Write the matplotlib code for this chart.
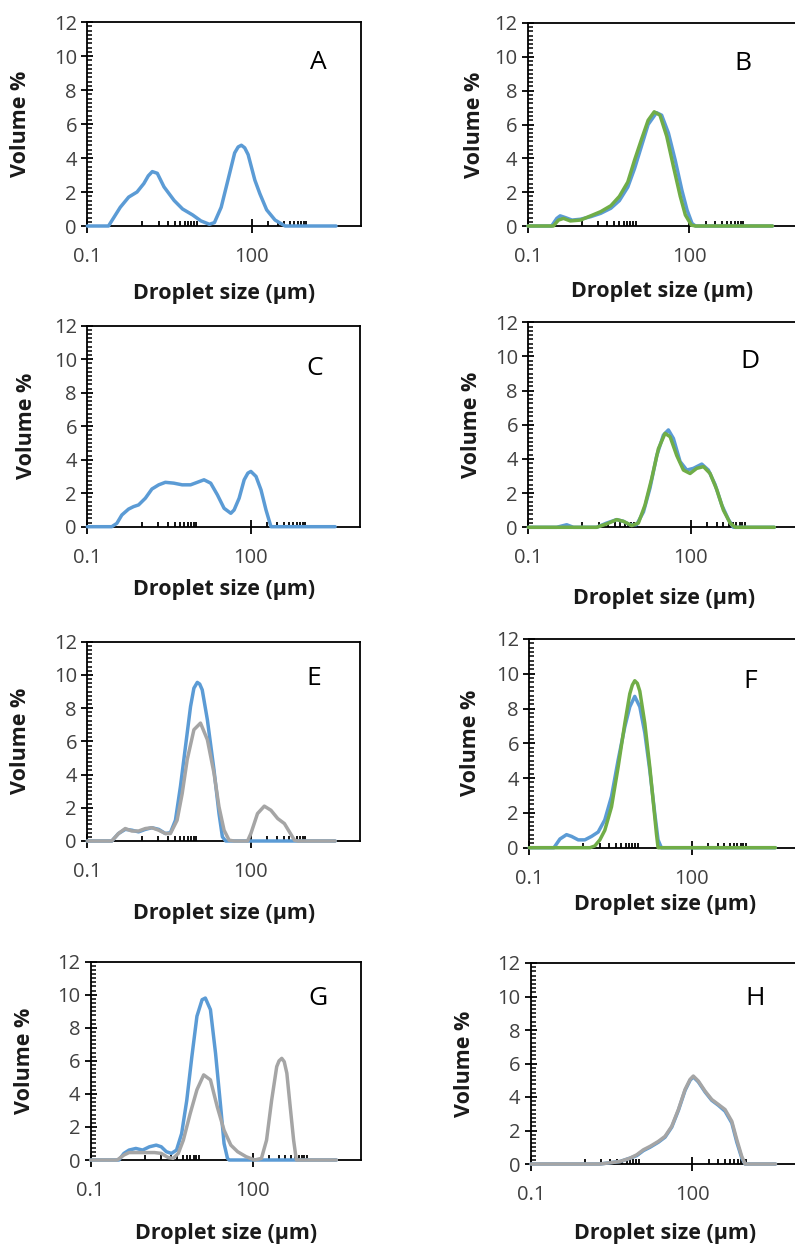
import matplotlib
matplotlib.use("Agg")
import matplotlib.pyplot as plt

plt.rcParams['font.family'] = ['Open Sans', 'DejaVu Sans']

BLUE = '#5B9BD5'
GREEN = '#70AD47'
GREY = '#A5A5A5'

# ---- particle size distributions (size in µm, volume %) ----
A_size = [0.1, 0.244, 0.40, 0.57, 0.81, 1.08, 1.30, 1.54, 1.90, 2.52, 3.86, 5.5, 8.4, 11.9,
          17.0, 21.0, 27.9, 37.1, 49.2, 57.0, 65.3, 75.0, 86.7, 115, 142, 189, 269, 411, 3500]
A_vol = [0, 0, 1.1, 1.7, 2.0, 2.5, 2.95, 3.2, 3.1, 2.3, 1.5, 1.0, 0.65, 0.3,
         0.1, 0.2, 1.1, 2.7, 4.3, 4.65, 4.75, 4.6, 4.2, 2.7, 1.9, 0.95, 0.35, 0, 0]

B1_size = [0.1, 0.275, 0.343, 0.396, 0.492, 0.658, 0.944, 1.46, 2.25, 3.47, 4.99, 7.16,
           9.57, 12.8, 17.1, 24.5, 30.5, 40.7, 54.4, 72.7, 90.4, 112, 130, 3500]
B1_vol = [0, 0, 0.45, 0.6, 0.5, 0.35, 0.4, 0.55, 0.75, 1.05, 1.5, 2.3,
          3.4, 4.7, 6.0, 6.7, 6.55, 5.5, 3.9, 2.1, 0.95, 0.15, 0, 0]
B2_size = [0.1, 0.296, 0.368, 0.457, 0.611, 0.944, 1.46, 2.25, 3.47, 4.99, 7.16, 9.57,
           12.8, 17.1, 22.2, 28.4, 37.9, 50.6, 67.6, 84.1, 109, 130, 3500]
B2_vol = [0, 0, 0.35, 0.45, 0.3, 0.35, 0.6, 0.85, 1.2, 1.75, 2.6, 3.9,
          5.1, 6.25, 6.75, 6.55, 5.3, 3.5, 1.75, 0.65, 0.05, 0, 0]

C_size = [0.1, 0.281, 0.348, 0.430, 0.570, 0.705, 0.871, 1.16, 1.53, 2.04, 2.70, 3.85,
          5.49, 7.82, 10.4, 13.8, 18.3, 24.3, 32.2, 42.8, 49.2, 60.8, 75.2, 88.0, 99.8,
          124, 153, 189, 233, 3500]
C_vol = [0, 0, 0.2, 0.7, 1.05, 1.2, 1.3, 1.7, 2.25, 2.5, 2.65, 2.6,
         2.5, 2.5, 2.65, 2.8, 2.6, 1.9, 1.1, 0.8, 1.0, 1.7, 2.8, 3.2, 3.3,
         3.0, 2.2, 1.0, 0, 0]

D1_size = [0.1, 0.334, 0.512, 0.680, 1.83, 2.81, 4.29, 5.70, 7.57, 10.0, 13.4, 17.7,
           23.6, 31.3, 38.7, 47.9, 63.6, 84.5, 112, 160, 212, 282, 375, 498, 615, 3500]
D1_vol = [0, 0, 0.15, 0, 0, 0.25, 0.45, 0.35, 0.15, 0.15, 0.9, 2.3,
          4.2, 5.4, 5.7, 5.2, 3.85, 3.35, 3.45, 3.7, 3.35, 2.5, 1.3, 0.45, 0, 0]
D2_size = [0.1, 1.83, 2.81, 4.29, 5.70, 8.13, 10.8, 14.3, 19.0, 25.3, 33.6, 41.6,
           55.2, 73.3, 97.3, 129, 172, 228, 303, 402, 534, 661, 3500]
D2_vol = [0, 0, 0.2, 0.45, 0.35, 0.1, 0.25, 1.3, 2.85, 4.6, 5.5, 5.3,
          4.2, 3.35, 3.15, 3.45, 3.55, 3.15, 2.2, 1.0, 0.25, 0, 0]

E1_size = [0.1, 0.281, 0.373, 0.496, 0.657, 0.871, 1.16, 1.53, 2.04, 2.70, 3.34, 4.13,
           5.11, 6.32, 7.82, 9.0, 10.4, 11.5, 12.8, 15.9, 21.0, 26.0, 30.0, 34.5, 3500]
E1_vol = [0, 0, 0.45, 0.7, 0.65, 0.55, 0.7, 0.8, 0.7, 0.45, 0.5, 1.25,
          3.3, 5.7, 8.1, 9.2, 9.55, 9.45, 9.1, 7.3, 4.3, 1.65, 0.25, 0, 0]
E2_size = [0.1, 0.281, 0.373, 0.496, 0.657, 0.871, 1.16, 1.53, 2.04, 2.70, 3.34, 4.43,
           5.49, 6.79, 9.01, 11.9, 15.9, 21.0, 26.0, 32.2, 39.8, 49.2, 86.7, 99.8,
           132, 176, 233, 310, 411, 508, 628, 724, 3500]
E2_vol = [0, 0, 0.45, 0.75, 0.6, 0.6, 0.75, 0.8, 0.65, 0.45, 0.45, 1.25,
          2.85, 4.9, 6.7, 7.1, 6.1, 4.1, 2.05, 0.65, 0.05, 0, 0, 0.45,
          1.65, 2.1, 1.85, 1.35, 1.05, 0.55, 0.05, 0, 0]

F1_size = [0.1, 0.285, 0.368, 0.487, 0.603, 0.801, 1.06, 1.41, 1.87, 2.48, 3.30, 4.38,
           5.81, 7.18, 8.87, 11.0, 13.6, 16.8, 20.8, 23.9, 27.5, 3500]
F1_vol = [0, 0, 0.5, 0.75, 0.65, 0.45, 0.45, 0.65, 0.9, 1.6, 2.95, 5.05,
          6.95, 8.1, 8.7, 8.1, 6.6, 4.45, 1.95, 0.45, 0, 0]
F2_size = [0.1, 1.32, 1.62, 2.01, 2.48, 3.30, 4.38, 5.81, 7.18, 8.0, 8.87, 9.9, 11.0, 13.6,
           16.8, 19.9, 22.3, 23.9, 3500]
F2_vol = [0, 0, 0.1, 0.45, 1.0, 2.35, 4.65, 7.15, 8.85, 9.35, 9.6, 9.45, 9.0, 7.15,
          4.65, 2.35, 0.8, 0, 0]

G1_size = [0.1, 0.332, 0.412, 0.512, 0.684, 0.913, 1.22, 1.63, 2.02, 2.51, 3.12, 3.87,
           4.81, 5.98, 7.43, 9.23, 11.5, 13.2, 16.4, 20.4, 25.4, 29.3, 33.9, 36.4, 3500]
G1_vol = [0, 0, 0.4, 0.6, 0.7, 0.6, 0.8, 0.9, 0.8, 0.5, 0.4, 0.6,
          1.6, 3.6, 6.25, 8.7, 9.7, 9.8, 9.1, 6.45, 3.2, 1.0, 0.1, 0, 0]
G2_size = [0.1, 0.309, 0.412, 0.512, 0.684, 0.981, 1.51, 2.02, 2.70, 3.35, 4.17, 5.17,
           6.91, 9.23, 12.3, 16.4, 22.0, 29.3, 39.1, 52.3, 75.0, 108, 144, 179,
           222, 276, 305, 342, 380, 425, 491, 567, 637, 3500]
G2_vol = [0, 0, 0.3, 0.45, 0.45, 0.45, 0.45, 0.4, 0.15, 0.1, 0.4, 1.2,
          2.8, 4.25, 5.15, 4.85, 3.2, 1.8, 0.9, 0.5, 0.2, 0, 0.1, 1.2,
          3.6, 5.65, 6.0, 6.15, 5.95, 5.25, 3.2, 1.2, 0, 0]

H_size = [0.1, 1.92, 2.55, 4.52, 6.93, 9.23, 12.3, 16.3, 23.3, 31.0, 41.3, 54.9,
          73.1, 90.6, 104, 129, 172, 229, 305, 405, 540, 669, 828, 955, 3500]
H1_vol = [0, 0, 0.05, 0.15, 0.35, 0.5, 0.8, 1.0, 1.3, 1.6, 2.2, 3.2,
          4.4, 5.0, 5.2, 4.9, 4.3, 3.8, 3.5, 3.15, 2.45, 1.3, 0.35, 0, 0]
H2_vol = [0, 0, 0.05, 0.15, 0.35, 0.55, 0.85, 1.05, 1.35, 1.65, 2.25, 3.25,
          4.45, 5.05, 5.25, 4.95, 4.35, 3.85, 3.55, 3.25, 2.55, 1.45, 0.45, 0, 0]

# axis ticks
x_major = [0.1, 100]
x_major_labels = ['0.1', '100']
x_minor = [1, 2, 3, 4, 5, 6, 7, 8, 9, 10, 200, 300, 400, 500, 600, 700, 800, 900, 1000]
y_major = [0, 2, 4, 6, 8, 10, 12]

W, H = 795, 1250
fig = plt.figure(figsize=(W / 100, H / 100), dpi=100)

# panel: letter, (left px, x-axis baseline px, width px, height px), label offsets, letter pos, series
panels = [
    ('A', (87.3, 226, 273.7, 204), 67, 67, (0.843, 0.80),
     [(A_size, A_vol, BLUE)]),
    ('B', (528, 226, 269, 203), 66, 54, (0.80, 0.80),
     [(B1_size, B1_vol, BLUE), (B2_size, B2_vol, GREEN)]),
    ('C', (87.3, 526.7, 272.7, 201), 63, 61, (0.835, 0.788),
     [(C_size, C_vol, BLUE)]),
    ('D', (528.3, 527.3, 270.7, 205), 71, 57, (0.819, 0.808),
     [(D1_size, D1_vol, BLUE), (D2_size, D2_vol, GREEN)]),
    ('E', (87.3, 841, 272.7, 199.3), 72, 67, (0.829, 0.816),
     [(E1_size, E1_vol, BLUE), (E2_size, E2_vol, GREY)]),
    ('F', (529.3, 847.7, 270.7, 208.7), 57, 59, (0.815, 0.795),
     [(F1_size, F1_vol, BLUE), (F2_size, F2_vol, GREEN)]),
    ('G', (90.7, 1160, 270.3, 198.3), 73, 66, (0.842, 0.815),
     [(G1_size, G1_vol, BLUE), (G2_size, G2_vol, GREY)]),
    ('H', (531, 1164, 269, 201), 69, 66, (0.833, 0.824),
     [(H_size, H1_vol, BLUE), (H_size, H2_vol, GREY)]),
]

TICK_FS = 14.5
LABEL_FS = 15.5
LETTER_FS = 19
TEXT_COL = '#404040'

for letter, (lx, by, wpx, hpx), xlab_off, ylab_off, (tx, ty), series in panels:
    ax = fig.add_axes([lx / W, (H - by) / H, wpx / W, hpx / H])
    for xs, ys, col in series:
        ax.plot(xs, ys, color=col, lw=2.5, solid_joinstyle='round',
                solid_capstyle='round', zorder=3, clip_on=False)
    ax.set_xscale('log')
    ax.set_xlim(0.1, 10000)
    ax.set_ylim(0, 12)
    ax.set_xticks(x_major)
    ax.set_xticklabels(x_major_labels)
    ax.set_xticks(x_minor, minor=True)
    ax.set_xticklabels([], minor=True)
    ax.set_yticks(y_major)
    ax.set_yticks([v * 0.25 for v in range(49)], minor=True)
    for s in ax.spines.values():
        s.set_linewidth(1.3)
        s.set_color('black')
    ax.tick_params(axis='x', which='major', direction='inout', length=10, width=1.3,
                   pad=10, labelsize=TICK_FS, labelcolor=TEXT_COL)
    ax.tick_params(axis='x', which='minor', direction='in', length=3.5, width=1.3)
    ax.tick_params(axis='y', which='major', direction='inout', length=9, width=1.3,
                   pad=3, labelsize=TICK_FS, labelcolor=TEXT_COL)
    ax.tick_params(axis='y', which='minor', direction='in', length=3.5, width=1.1)
    ax.text(0.5, -xlab_off / hpx, 'Droplet size (µm)', transform=ax.transAxes,
            ha='center', va='center', fontsize=LABEL_FS, fontweight='bold',
            color='#1a1a1a')
    ax.text(-ylab_off / wpx, 0.5, 'Volume %', transform=ax.transAxes, rotation=90,
            ha='center', va='center', fontsize=LABEL_FS, fontweight='bold',
            color='#1a1a1a')
    ax.text(tx, ty, letter, transform=ax.transAxes, ha='center', va='center',
            fontsize=LETTER_FS, color='black')

fig.savefig('out.png', dpi=100)
